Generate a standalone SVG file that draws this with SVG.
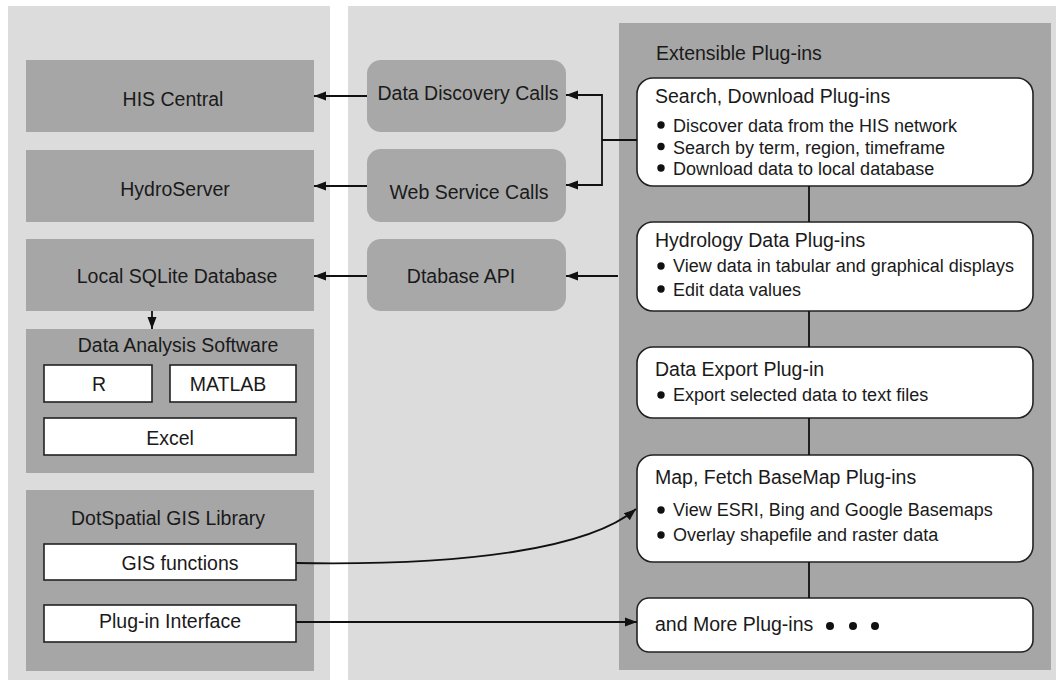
<svg xmlns="http://www.w3.org/2000/svg" width="1056" height="684" viewBox="0 0 1056 684">
<style>
text{font-family:"Liberation Sans",Arial,sans-serif;fill:#1a1a1a}
.t{font-size:19.5px}
.b{font-size:18px}
.m{text-anchor:middle}
.panel{fill:#dcdcdc}
.dark{fill:#a6a6a6}
.call{fill:#a8a8a8}
.wbox{fill:#fff;stroke:#222;stroke-width:1.6}
.plug{fill:#fff;stroke:#222;stroke-width:1.6}
.c{fill:none;stroke:#111;stroke-width:1.8}
.dot{fill:#111}
</style>
<defs>
<marker id="ah" viewBox="0 0 12 10" refX="12" refY="5" markerWidth="12" markerHeight="10" markerUnits="userSpaceOnUse" orient="auto">
<path d="M0,0.5 L12,5 L0,9.5 Z" fill="#111"/>
</marker>
</defs>
<rect width="1056" height="684" fill="#fff"/>
<rect class="panel" x="8" y="6" width="322" height="674"/>
<rect class="panel" x="348" y="6" width="708" height="674"/>
<rect class="dark" x="619" y="23" width="432" height="647"/>

<g id="his-central"><rect class="dark" x="26" y="60" width="288" height="72"/><text class="t m" x="173" y="106">HIS Central</text></g>
<g id="hydroserver"><rect class="dark" x="26" y="150" width="288" height="72"/><text class="t m" x="175" y="196">HydroServer</text></g>
<g id="local-sqlite"><rect class="dark" x="26" y="239" width="288" height="72"/><text class="t m" x="177" y="283">Local SQLite Database</text></g>
<g id="data-analysis"><rect class="dark" x="26" y="329" width="288" height="144"/><text class="t m" x="178" y="352">Data Analysis Software</text>
<rect class="wbox" x="44" y="365" width="108" height="37"/><text class="t m" x="99" y="391">R</text>
<rect class="wbox" x="170" y="365" width="126" height="37"/><text class="t m" x="228" y="391">MATLAB</text>
<rect class="wbox" x="44" y="418" width="252" height="37"/><text class="t m" x="170" y="445">Excel</text></g>
<g id="dotspatial"><rect class="dark" x="26" y="490" width="288" height="181"/><text class="t m" x="168" y="525">DotSpatial GIS Library</text>
<rect class="wbox" x="44" y="544" width="252" height="36"/><text class="t m" x="180" y="570">GIS functions</text>
<rect class="wbox" x="44" y="605" width="252" height="37"/><text class="t m" x="170" y="628">Plug-in Interface</text></g>

<g id="data-discovery"><rect class="call" x="367" y="60" width="199" height="72" rx="14"/><text class="t m" x="468" y="100">Data Discovery Calls</text></g>
<g id="web-service"><rect class="call" x="367" y="149" width="199" height="73" rx="14"/><text class="t m" x="469" y="199">Web Service Calls</text></g>
<g id="dtabase-api"><rect class="call" x="367" y="239" width="199" height="72" rx="14"/><text class="t m" x="461" y="283">Dtabase API</text></g>

<g id="extensible"><text class="t" x="656" y="60">Extensible Plug-ins</text></g>
<g id="search"><rect class="plug" x="637" y="78" width="396" height="108" rx="16"/>
<text class="t" x="655" y="103">Search, Download Plug-ins</text>
<circle class="dot" cx="661" cy="125" r="3.7"/><text class="b" x="673" y="132">Discover data from the HIS network</text>
<circle class="dot" cx="661" cy="146.5" r="3.7"/><text class="b" x="673" y="153.5">Search by term, region, timeframe</text>
<circle class="dot" cx="661" cy="168" r="3.7"/><text class="b" x="673" y="175">Download data to local database</text></g>
<g id="hydrology"><rect class="plug" x="637" y="222" width="396" height="89" rx="16"/>
<text class="t" x="655" y="247">Hydrology Data Plug-ins</text>
<circle class="dot" cx="661" cy="266" r="3.7"/><text class="b" x="673" y="272">View data in tabular and graphical displays</text>
<circle class="dot" cx="661" cy="289" r="3.7"/><text class="b" x="673" y="296">Edit data values</text></g>
<g id="export"><rect class="plug" x="637" y="347" width="396" height="71" rx="16"/>
<text class="t" x="655" y="376">Data Export Plug-in</text>
<circle class="dot" cx="661" cy="395" r="3.7"/><text class="b" x="673" y="401">Export selected data to text files</text></g>
<g id="map"><rect class="plug" x="637" y="455" width="396" height="107" rx="16"/>
<text class="t" x="655" y="484">Map, Fetch BaseMap Plug-ins</text>
<circle class="dot" cx="661" cy="510" r="3.7"/><text class="b" x="673" y="516">View ESRI, Bing and Google Basemaps</text>
<circle class="dot" cx="661" cy="535" r="3.7"/><text class="b" x="673" y="541">Overlay shapefile and raster data</text></g>
<g id="more"><rect class="plug" x="637" y="598" width="396" height="54" rx="12"/>
<text class="t" x="655" y="631">and More Plug-ins</text>
<circle class="dot" cx="830" cy="626" r="4"/><circle class="dot" cx="853" cy="626" r="4"/><circle class="dot" cx="875" cy="626" r="4"/></g>

<g id="connectors">
<line class="c" x1="367" y1="96" x2="314" y2="96" marker-end="url(#ah)"/>
<line class="c" x1="367" y1="186" x2="314" y2="186" marker-end="url(#ah)"/>
<line class="c" x1="367" y1="276" x2="314" y2="276" marker-end="url(#ah)"/>
<line class="c" x1="152" y1="311" x2="152" y2="329" marker-end="url(#ah)"/>
<polyline class="c" points="637,140 602,140"/>
<polyline class="c" points="566,95 602,95 602,185 566,185" marker-end="url(#ah)"/>
<line class="c" x1="602" y1="95" x2="566" y2="95" marker-end="url(#ah)"/>
<line class="c" x1="618" y1="276" x2="566" y2="276" marker-end="url(#ah)"/>
<line class="c" x1="809" y1="186" x2="809" y2="222"/>
<line class="c" x1="809" y1="311" x2="809" y2="347"/>
<line class="c" x1="809" y1="418" x2="809" y2="455"/>
<line class="c" x1="809" y1="562" x2="809" y2="598"/>
<path class="c" d="M296,563 C470,566 590,548 636,509" marker-end="url(#ah)"/>
<line class="c" x1="296" y1="622" x2="637" y2="622" marker-end="url(#ah)"/>
</g>
</svg>
